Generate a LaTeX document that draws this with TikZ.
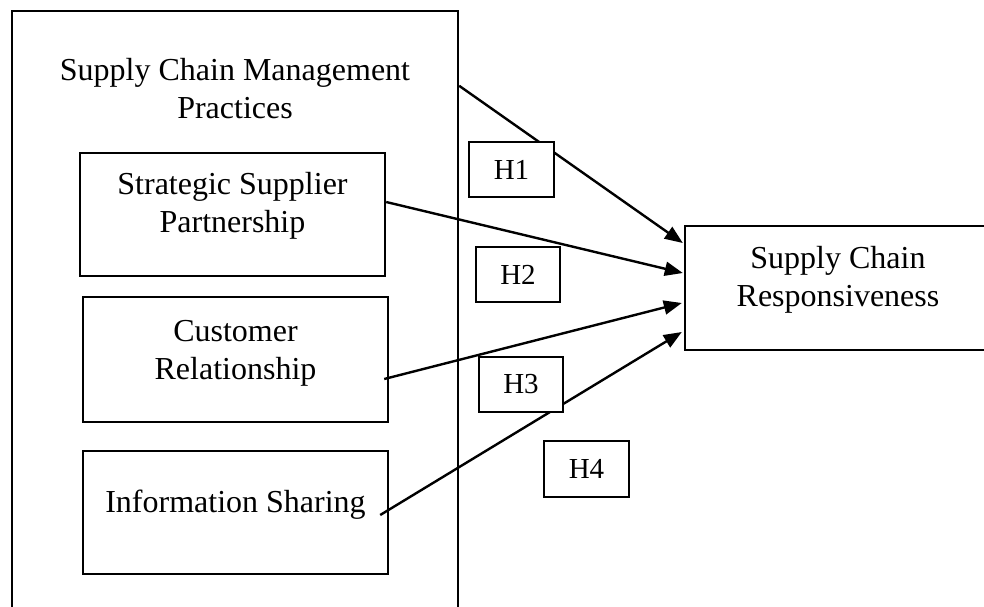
\documentclass[tikz,border=0pt]{standalone}
\usepackage{fontspec}
\setmainfont{Liberation Serif}
\usetikzlibrary{arrows.meta,calc}
\tikzset{
  box/.style={draw=black, line width=2.4pt, rectangle, inner sep=0pt},
  hbox/.style={draw=black, fill=white, line width=1.6pt, rectangle, inner sep=0pt,
               font=\fontsize{29}{34}\selectfont},
  txt/.style={inner sep=0pt, align=center, font=\fontsize{32}{38}\selectfont},
  arr/.style={line width=2.4pt, -{Triangle[length=18pt,width=14pt]}}
}
\begin{document}
\begin{tikzpicture}[x=1pt,y=-1pt]
\useasboundingbox (0,0) rectangle (984,606);
\clip (0,0) rectangle (984,606);

% outer group: supply chain management practices
\node[box, minimum width=446, minimum height=640] (scmp) at (235,331) {};
\node[txt] (scmpt) at (235,91.4) {\strut Supply Chain Management\\\strut Practices};

% practice boxes
\node[box, minimum width=305, minimum height=123] (ssp) at (232.5,214.5) {};
\node[txt] (sspt) at (232.5,205.4) {\strut Strategic Supplier\\\strut Partnership};

\node[box, minimum width=305, minimum height=125] (cr) at (235.5,359.5) {};
\node[txt] (crt) at (235.5,352.4) {\strut Customer\\\strut Relationship};

\node[box, minimum width=305, minimum height=123] (is) at (235.5,512.5) {};
\node[txt] (ist) at (235.5,504.4) {\strut Information Sharing};

% outcome box
\node[box, minimum width=306, minimum height=124] (scr) at (838,288) {};
\node[txt] (scrt) at (838,279.4) {\strut Supply Chain\\\strut Responsiveness};

% hypothesised paths
\draw[arr] ($(scmp.north east)+(0,76)$) -- ($(scr.west)+(-1,-45)$);
\draw[arr] ($(ssp.east)+(0,-12.5)$) -- ($(scr.west)+(-1,-15)$);
\draw[arr] ($(cr.east)+(-5,19.5)$) -- ($(scr.west)+(-2,15)$);
\draw[arr] ($(is.east)+(-9,2.5)$) -- ($(scr.west)+(-2,44)$);

% hypothesis labels, drawn over the paths
\node[hbox, minimum width=85, minimum height=55] (h1) at (511.5,169.5) {H1};
\node[hbox, minimum width=84, minimum height=55] (h2) at (518,274.5) {H2};
\node[hbox, minimum width=84, minimum height=55] (h3) at (521,384.5) {H3};
\node[hbox, minimum width=85, minimum height=56] (h4) at (586.5,469) {H4};
\end{tikzpicture}
\end{document}
